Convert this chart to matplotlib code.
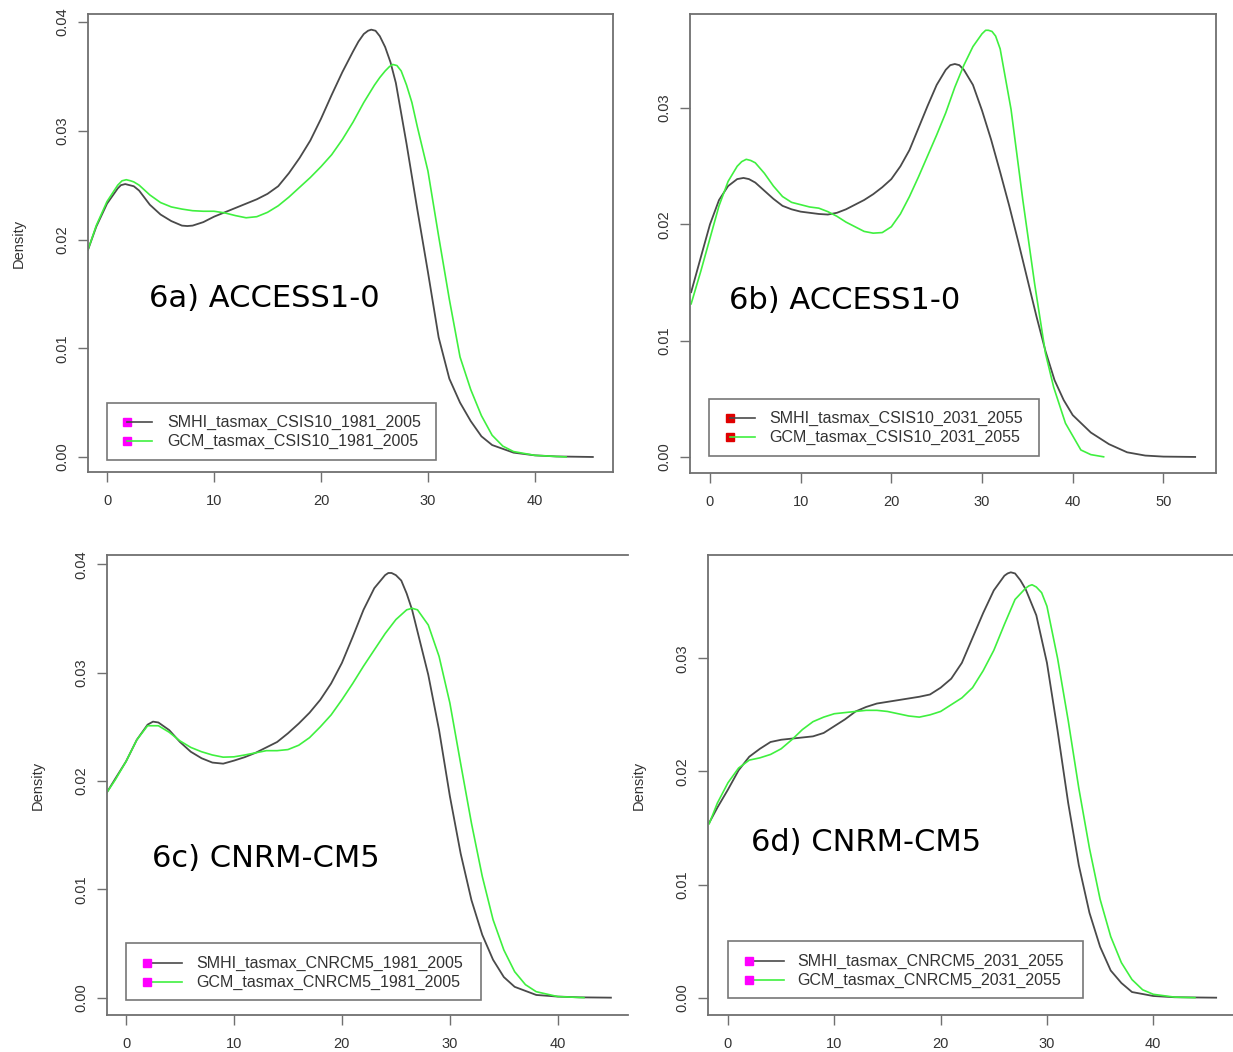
import matplotlib
matplotlib.use("Agg")
import matplotlib.pyplot as plt
from matplotlib.lines import Line2D
from matplotlib.patches import Rectangle

plt.rcParams['font.family'] = ['Liberation Sans', 'DejaVu Sans']

# ---------------- data ----------------
# Panel 6a  ACCESS1-0, 1981-2005
a_smhi_x = [-1.8, -1, 0, 1, 1.3, 1.7, 2.1, 2.5, 3, 4, 5, 6, 7, 7.5, 8, 9, 10, 11, 12, 13, 14,
            15, 16, 17, 18, 19, 20, 21, 22, 23, 23.5, 24, 24.4, 24.7, 25.1, 25.5, 26, 26.5,
            27, 28, 29, 30, 31, 32, 33, 34, 35, 36, 38, 40, 42, 45.5]
a_smhi_y = [.0190, .0212, .0233, .0247, .0250, .0251, .0250, .0249, .0245, .0232, .0223,
            .0217, .02128, .02124, .02128, .0216, .0221, .0225, .0229, .0233, .0237, .0242,
            .0249, .0261, .0275, .0291, .0311, .0333, .0354, .0373, .0382, .0389, .0392,
            .0393, .0392, .0387, .0377, .0363, .0344, .0288, .0228, .0170, .0110, .0072,
            .0050, .0033, .0019, .0011, .0004, .00015, .00005, 0]
a_gcm_x = [-1.8, -1, 0, 1, 1.4, 1.8, 2.2, 2.5, 3, 4, 5, 6, 7, 8, 9, 10, 11, 12, 13, 14, 15,
           16, 17, 18, 19, 20, 21, 22, 23, 24, 25, 25.5, 26, 26.4, 26.7, 27.1, 27.5, 28,
           28.5, 29, 30, 31, 32, 33, 34, 35, 36, 37, 38, 40, 43]
a_gcm_y = [.0190, .0213, .0235, .0250, .0254, .0255, .0254, .0253, .0250, .0241, .0234,
           .0230, .0228, .02265, .0226, .0226, .02245, .0222, .0220, .0221, .0225, .0231,
           .0239, .0248, .0257, .0267, .0278, .0292, .0308, .0326, .0342, .0349, .0355,
           .0359, .0361, .0360, .0355, .0342, .0326, .0304, .0263, .0203, .0145, .0092,
           .0062, .0038, .0020, .0010, .0005, .00015, 0]

# Panel 6b  ACCESS1-0, 2031-2055
b_smhi_x = [-2.1, -1, 0, 1, 2, 3, 3.7, 4.3, 5, 6, 7, 8, 9, 10, 11, 12, 13, 14, 15, 16, 17,
            18, 19, 20, 21, 22, 23, 24, 25, 26, 26.5, 27, 27.5, 28, 29, 30, 31, 32, 33, 34,
            35, 36, 37, 38, 39, 40, 42, 44, 46, 48, 50, 53.6]
b_smhi_y = [.0141, .0172, .0200, .0221, .0233, .0239, .0240, .0239, .0236, .0229, .0222,
            .0216, .0213, .0211, .0210, .0209, .02085, .0210, .0213, .0217, .0221, .0226,
            .0232, .0239, .0250, .0264, .0283, .0302, .0320, .0333, .0337, .0338, .0337,
            .0333, .0320, .0298, .0273, .0245, .0216, .0185, .0153, .0121, .0091, .0066,
            .0049, .0036, .0021, .0011, .0004, .00012, .00003, 0]
b_gcm_x = [-2.1, -1, 0, 1, 2, 3, 3.5, 4, 4.5, 5, 6, 7, 8, 9, 10, 11, 12, 13, 14, 15, 16,
           17, 18, 19, 20, 21, 22, 23, 24, 25, 26, 27, 28, 29, 30, 30.4, 30.7, 31.1, 31.5,
           32, 33.2, 34.5, 35.8, 37, 37.9, 39.2, 40.9, 42, 43.5]
b_gcm_y = [.0131, .0160, .0188, .0216, .0237, .0250, .0254, .0256, .0255, .0253, .0244,
           .0233, .0224, .0219, .0217, .0215, .0214, .0211, .0207, .0202, .0198, .0194,
           .01925, .0193, .0198, .0209, .0224, .0241, .0259, .0277, .0296, .0318, .0337,
           .0353, .0364, .0367, .0367, .0366, .0362, .0351, .0299, .0221, .0149, .0089,
           .0060, .0029, .0006, .0002, 0]

# Panel 6c  CNRM-CM5, 1981-2005
c_smhi_x = [-1.8, -1, 0, 1, 2, 2.5, 3, 4, 5, 6, 7, 8, 9, 10, 11, 12, 13, 14, 15, 16, 17,
            18, 19, 20, 21, 22, 23, 24, 24.3, 24.6, 25, 25.5, 26, 26.5, 27, 28, 29, 30, 31,
            32, 33, 34, 35, 36, 38, 40, 42, 45]
c_smhi_y = [.0189, .0202, .0218, .0238, .0252, .02548, .0254, .0247, .0236, .0227, .0221,
            .0217, .0216, .02188, .0222, .0226, .0231, .0236, .0244, .0253, .0263, .0275,
            .0290, .0309, .0333, .0358, .0378, .0390, .0392, .0392, .0390, .0385, .0373,
            .0358, .0338, .0298, .0247, .0186, .0133, .0090, .0058, .0035, .0019, .0010,
            .00025, .0001, .00003, 0]
c_gcm_x = [-1.8, -1, 0, 1, 2, 3, 4, 5, 6, 7, 8, 9, 10, 11, 12, 13, 14, 15, 16, 17, 18, 19,
           20, 21, 22, 23, 24, 25, 26, 26.5, 27, 28, 29, 30, 31, 32, 33, 34, 35, 36, 37, 38,
           40, 42.5]
c_gcm_y = [.0189, .0201, .0218, .0238, .0251, .0251, .0245, .0237, .0231, .0227, .0224,
           .0222, .02223, .0224, .0226, .0228, .0228, .0229, .0233, .0240, .0250, .0261,
           .0275, .0290, .0306, .0321, .0336, .0349, .0358, .03594, .0358, .0344, .0315,
           .0272, .0216, .0161, .0112, .0072, .0044, .0024, .0012, .00055, .0001, 0]

# Panel 6d  CNRM-CM5, 2031-2055
d_smhi_x = [-1.8, -1, 0, 1, 2, 3, 4, 5, 6, 7, 8, 9, 10, 11, 12, 13, 14, 16, 18, 19, 20,
            21, 22, 23, 24, 25, 26, 26.3, 26.6, 27, 27.5, 28, 29, 30, 31, 32, 33, 34, 35,
            36, 37, 38, 40, 42, 46]
d_smhi_y = [.0154, .0168, .0184, .0201, .0213, .0220, .0226, .0228, .0229, .0230, .0231,
            .0234, .0240, .0246, .0253, .0257, .0260, .0263, .0266, .0268, .0274, .0282,
            .0296, .0318, .0340, .0360, .0373, .0375, .0376, .0375, .0369, .0361, .0338,
            .0296, .0236, .0172, .0117, .0075, .0045, .0024, .0013, .0005, .00015, .00004, 0]
d_gcm_x = [-1.8, -1, 0, 1, 2, 3, 4, 5, 6, 7, 8, 9, 10, 12, 13, 14, 15, 16, 17, 18, 19, 20,
           22, 23, 24, 25, 26, 27, 28, 28.3, 28.6, 29, 29.5, 30, 31, 32, 33, 34, 35, 36, 37,
           38, 39, 40, 42, 44]
d_gcm_y = [.0153, .0172, .0190, .0203, .0210, .0212, .0215, .0220, .0228, .0237, .0244,
           .0248, .0251, .0253, .0254, .0254, .0253, .0251, .0249, .0248, .0250, .0253,
           .0265, .0274, .0289, .0307, .0330, .0352, .0362, .0364, .0365, .0363, .0358,
           .0346, .0300, .0245, .0185, .0132, .0087, .0054, .0031, .0016, .0007, .0003,
           .00005, 0]

panel_titles = ["6a) ACCESS1-0", "6b) ACCESS1-0", "6c) CNRM-CM5", "6d) CNRM-CM5"]
legend_labels = [
    ["SMHI_tasmax_CSIS10_1981_2005", "GCM_tasmax_CSIS10_1981_2005"],
    ["SMHI_tasmax_CSIS10_2031_2055", "GCM_tasmax_CSIS10_2031_2055"],
    ["SMHI_tasmax_CNRCM5_1981_2005", "GCM_tasmax_CNRCM5_1981_2005"],
    ["SMHI_tasmax_CNRCM5_2031_2055", "GCM_tasmax_CNRCM5_2031_2055"],
]
x_ticks = [[0, 10, 20, 30, 40], [0, 10, 20, 30, 40, 50], [0, 10, 20, 30, 40], [0, 10, 20, 30, 40]]
y_ticks = [[0.00, 0.01, 0.02, 0.03, 0.04], [0.00, 0.01, 0.02, 0.03],
           [0.00, 0.01, 0.02, 0.03, 0.04], [0.00, 0.01, 0.02, 0.03]]
y_label = "Density"

series = [
    (a_smhi_x, a_smhi_y, a_gcm_x, a_gcm_y),
    (b_smhi_x, b_smhi_y, b_gcm_x, b_gcm_y),
    (c_smhi_x, c_smhi_y, c_gcm_x, c_gcm_y),
    (d_smhi_x, d_smhi_y, d_gcm_x, d_gcm_y),
]

# ---------------- layout (pixel geometry of the composite) ----------------
W, H = 1233, 1052
fig = plt.figure(figsize=(W / 100, H / 100), dpi=100)
fig.patch.set_facecolor('white')


def fx(x):
    return x / W


def fy(y):
    return 1 - y / H


layout = [
    dict(box=(88, 14, 613, 472), xlim=(-1.78, 47.3), ylim=(-0.00138, 0.04074), right=True,
         ylab=True, title=(149, 307),
         leg=dict(box=(107, 403, 436, 460), rows=(422, 441), mk=127, l1=152, tx=167,
                  mcol='#ff00ff', line_top=True)),
    dict(box=(690, 14, 1216, 473), xlim=(-2.2, 55.8), ylim=(-0.00138, 0.0381), right=True,
         ylab=False, title=(729, 309),
         leg=dict(box=(709, 399, 1039, 456), rows=(418, 437), mk=730, l1=755, tx=769,
                  mcol='#e00000', line_top=True)),
    dict(box=(107, 555, 628, 1015), xlim=(-1.76, 46.5), ylim=(-0.0016, 0.04086), right=False,
         ylab=True, title=(152, 867),
         leg=dict(box=(126, 943, 481, 1000), rows=(963, 982), mk=147, l1=182, tx=196,
                  mcol='#ff00ff', line_top=False)),
    dict(box=(708, 555, 1233, 1015), xlim=(-1.88, 47.5), ylim=(-0.00153, 0.03913), right=False,
         ylab=True, title=(751, 851),
         leg=dict(box=(728, 941, 1083, 998), rows=(961, 980), mk=749, l1=784, tx=797,
                  mcol='#ff00ff', line_top=False)),
]

SPINE = '#707070'
TXT = '#333333'
BLACK = '#4a4a4a'
GREEN = '#3ff03f'

for i, (lay, (sx, sy, gx, gy)) in enumerate(zip(layout, series)):
    l, t, r, b = lay['box']
    ax = fig.add_axes([fx(l), fy(b), (r - l) / W, (b - t) / H])
    ax.plot(sx, sy, color=BLACK, lw=1.3, solid_joinstyle='round', solid_capstyle='butt')
    ax.plot(gx, gy, color=GREEN, lw=1.2, solid_joinstyle='round', solid_capstyle='butt')
    ax.set_xlim(*lay['xlim'])
    ax.set_ylim(*lay['ylim'])
    for s in ax.spines.values():
        s.set_color(SPINE)
        s.set_linewidth(1.3)
    if not lay['right']:
        ax.spines['right'].set_visible(False)
    ax.set_xticks(x_ticks[i])
    ax.set_xticklabels([str(v) for v in x_ticks[i]])
    ax.set_yticks(y_ticks[i])
    ax.set_yticklabels(['%.2f' % v for v in y_ticks[i]], rotation=90, va='center')
    ax.tick_params(axis='both', direction='out', length=7, width=1.0, color=SPINE,
                   labelsize=10.5, labelcolor=TXT)
    ax.tick_params(axis='x', pad=8.5)
    ax.tick_params(axis='y', pad=6.5)
    if lay['ylab']:
        ax.set_ylabel(y_label, fontsize=10.5, color=TXT)
        ax.yaxis.set_label_coords((26 - 88) / (r - l), 0.5)

    tx, ty = lay['title']
    fig.text(fx(tx), fy(ty), panel_titles[i], family='DejaVu Sans', fontsize=22,
             color='black', ha='left', va='baseline', zorder=9)

    lg = lay['leg']
    ll, lt, lr, lb = lg['box']
    fig.add_artist(Rectangle((fx(ll), fy(lb)), (lr - ll) / W, (lb - lt) / H,
                             transform=fig.transFigure, facecolor='white',
                             edgecolor='#777777', lw=1.2, zorder=5))
    for yrow, lab, col in zip(lg['rows'], legend_labels[i], [BLACK, GREEN]):
        ln = Line2D([fx(lg['mk']), fx(lg['l1'])], [fy(yrow), fy(yrow)],
                    transform=fig.transFigure, color=col, lw=1.2,
                    zorder=7 if lg['line_top'] else 6)
        mk = Line2D([fx(lg['mk'])], [fy(yrow)], transform=fig.transFigure, marker='s',
                    ms=6, mfc=lg['mcol'], mec=lg['mcol'], ls='none',
                    zorder=6 if lg['line_top'] else 7)
        fig.add_artist(ln)
        fig.add_artist(mk)
        fig.text(fx(lg['tx']), fy(yrow), lab, ha='left', va='center', fontsize=11.5,
                 color=TXT, zorder=8)

fig.savefig('out.png', dpi=100, facecolor='white')
